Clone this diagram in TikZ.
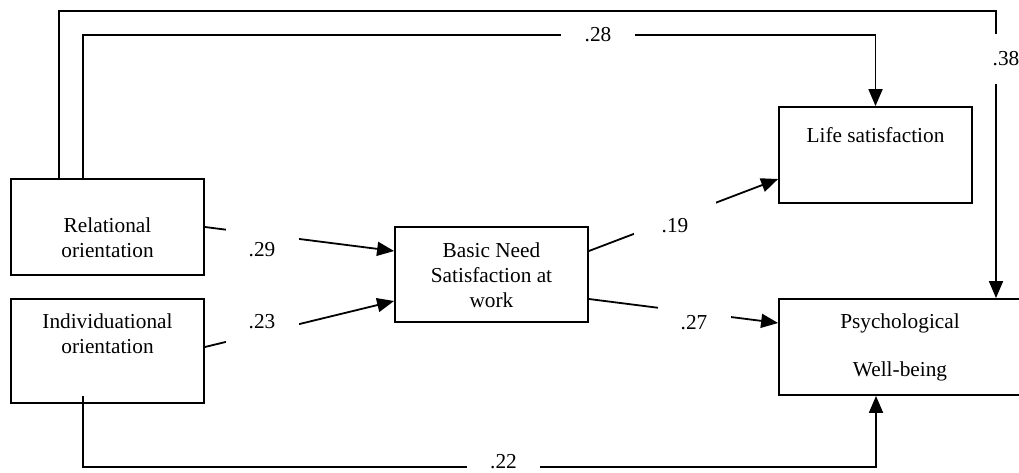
\documentclass[tikz,border=0pt]{standalone}
\usepackage{fontspec}
\setmainfont{Liberation Serif}
\usetikzlibrary{arrows.meta}
\begin{document}
\begin{tikzpicture}[x=1pt,y=-1pt,
  txt/.style={font=\fontsize{21.3}{25}\selectfont},
  box/.style={draw, line width=1.8pt, rectangle, inner sep=0pt},
  boxtext/.style={txt, anchor=north, inner sep=0pt, align=center},
  conn/.style={line width=1.8pt, -{Triangle[length=17pt,width=14pt]}},
  gaplabel/.style={txt, fill=white, inner sep=0pt}]
\useasboundingbox (0,0) rectangle (1019,472);
\clip (0,0) rectangle (1019,472);

% variables
\node[box, minimum width=193pt, minimum height=96pt] (rel) at (107.5,227) {};
\node[box, minimum width=193pt, minimum height=104pt] (ind) at (107.5,351) {};
\node[box, minimum width=193pt, minimum height=95pt] (basic) at (491.5,274.5) {};
\node[box, minimum width=193pt, minimum height=96pt] (life) at (875.5,155) {};
\node[box, minimum width=243pt, minimum height=96pt] (pwb) at (900.5,347) {};

\node[boxtext] (relT) at (107.5,218) {Relational\\orientation};
\node[boxtext] (indT) at (107.5,314) {Individuational\\orientation};
\node[boxtext] (basicT) at (491.5,243) {Basic Need\\Satisfaction at\\work};
\node[boxtext] (lifeT) at (875.5,127) {Life satisfaction};
\node[boxtext] (pwbT) at (900,314) {Psychological\\[23pt]Well-being};

% routing points of the long paths
\coordinate (r38) at (59,11);
\coordinate (c38) at (996,11);
\coordinate (r28) at (83,35);
\coordinate (r22) at (83,467);
\coordinate (c22) at (876,467);

% paths
\draw[conn] (rel.east) -- ([yshift=23.5pt]basic.west);
\draw[conn] ([yshift=4pt]ind.east) -- ([yshift=-26.5pt]basic.west);
\draw[conn] ([yshift=23.5pt]basic.east) -- ([yshift=-24pt]life.west);
\draw[conn] ([yshift=-24.5pt]basic.east) -- ([yshift=24pt]pwb.west);
\draw[conn] (rel.north -| r28) -- (r28) -| (life.north);
\draw[conn] (rel.north -| r38) -- (r38) -- (c38) -- (pwb.north -| c38);
\draw[conn] ([yshift=8pt]ind.south -| r22) -- (r22) -- (c22) -- (pwb.south -| c22);

% coefficients
\node[gaplabel, minimum width=73pt, minimum height=50pt] (l29) at (262,250) {.29};
\node[gaplabel, minimum width=73pt, minimum height=44pt] (l23) at (262,322) {.23};
\node[gaplabel, minimum width=82pt, minimum height=52pt] (l19) at (675,226) {.19};
\node[gaplabel, minimum width=73pt, minimum height=40pt] (l27) at (694,323) {.27};
\node[gaplabel, minimum width=74pt, minimum height=26pt] (l28) at (598,35) {.28};
\node[gaplabel, minimum width=40pt, minimum height=50pt] (l38) at (1006,59) {.38};
\node[gaplabel, minimum width=73pt, minimum height=24pt] (l22) at (503.5,462) {.22};
\end{tikzpicture}
\end{document}
